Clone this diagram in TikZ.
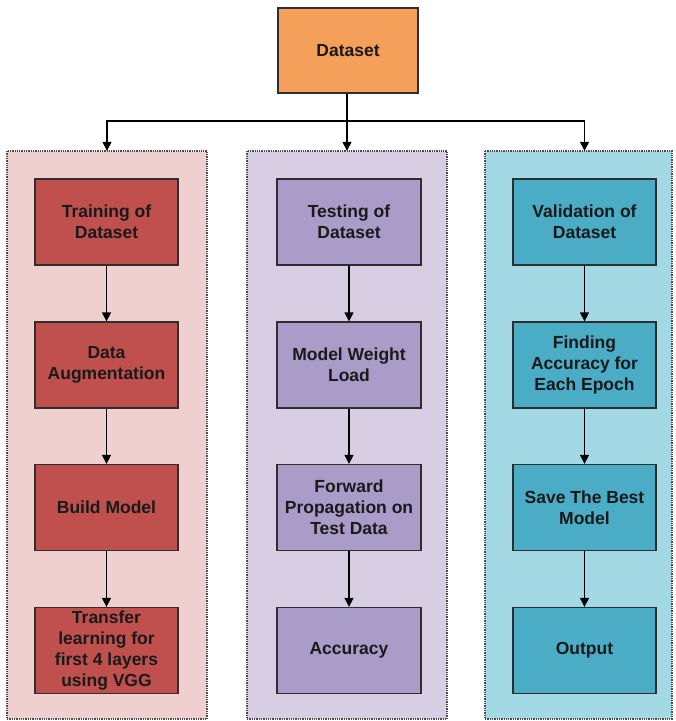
\documentclass[tikz,border=0pt]{standalone}
\usepackage{fontspec}
\setmainfont{Liberation Sans}
\usetikzlibrary{arrows.meta,positioning}

\definecolor{dsfill}{HTML}{F5A05A}
\definecolor{trpanel}{HTML}{F0CFCF}
\definecolor{trbox}{HTML}{C0504D}
\definecolor{tepanel}{HTML}{D8CEE4}
\definecolor{tebox}{HTML}{AA9CC9}
\definecolor{vapanel}{HTML}{A3D8E5}
\definecolor{vabox}{HTML}{4BACC6}
\definecolor{edge}{HTML}{2E2E2E}
\definecolor{txt}{HTML}{1A1A1A}

\tikzset{
  x=1pt, y=-1pt,
  stepbox/.style={draw=edge, line width=1.3pt, minimum width=143pt, minimum height=86pt,
    inner sep=2pt, align=center, text=txt,
    font=\fontsize{17.5}{21}\selectfont\bfseries},
  panel/.style={draw=black!70, line width=1.3pt, densely dotted},
  arr/.style={draw=black, line width=1.3pt, -{Triangle[length=9pt,width=9pt]}},
  plain/.style={draw=black, line width=1.3pt}
}

\begin{document}
\begin{tikzpicture}
\useasboundingbox (0,0) rectangle (676,721);

% column panels
\draw[panel, fill=trpanel] (7,151) rectangle (207,719);
\draw[panel, fill=tepanel] (247,151) rectangle (447,719);
\draw[panel, fill=vapanel] (485,151) rectangle (672,719);
\node[minimum width=200pt, minimum height=568pt, inner sep=0] (pl) at (107,435) {};
\node[minimum width=200pt, minimum height=568pt, inner sep=0] (pm) at (347,435) {};
\node[minimum width=187pt, minimum height=568pt, inner sep=0] (pr) at (578.5,435) {};

% top node
\node[stepbox, fill=dsfill, minimum width=140pt, minimum height=85pt] (ds) at (348,50.5) {Dataset};

% training column
\node[stepbox, fill=trbox] (t1) at (106.5,222) {Training of\\Dataset};
\node[stepbox, fill=trbox] (t2) at (106.5,365) {Data\\Augmentation};
\node[stepbox, fill=trbox] (t3) at (106.5,507.5) {Build Model};
\node[stepbox, fill=trbox] (t4) at (106.5,650.5) {Transfer\\learning for\\first 4 layers\\using VGG};

% testing column
\node[stepbox, fill=tebox, minimum width=144pt] (m1) at (349,222) {Testing of\\Dataset};
\node[stepbox, fill=tebox, minimum width=144pt] (m2) at (349,365) {Model Weight\\Load};
\node[stepbox, fill=tebox, minimum width=144pt] (m3) at (349,507.5) {Forward\\Propagation on\\Test Data};
\node[stepbox, fill=tebox, minimum width=144pt] (m4) at (349,650.5) {Accuracy};

% validation column
\node[stepbox, fill=vabox] (v1) at (584.5,222) {Validation of\\Dataset};
\node[stepbox, fill=vabox] (v2) at (584.5,365) {Finding\\Accuracy for\\Each Epoch};
\node[stepbox, fill=vabox] (v3) at (584.5,507.5) {Save The Best\\Model};
\node[stepbox, fill=vabox] (v4) at (584.5,650.5) {Output};

% distribution from the dataset
\coordinate (hy) at (347,121);
\draw[arr] (ds.south -| pm.north) -- (pm.north);
\draw[arr] (hy) -| (pl.north);
\draw[arr] (hy) -| (pr.north -| v1.north);

% flow inside each column
\foreach \a/\b in {t1/t2,t2/t3,t3/t4,m1/m2,m2/m3,m3/m4,v1/v2,v2/v3,v3/v4}
  \draw[arr] (\a.south -| \a.center) -- (\b.north);
\end{tikzpicture}
\end{document}
